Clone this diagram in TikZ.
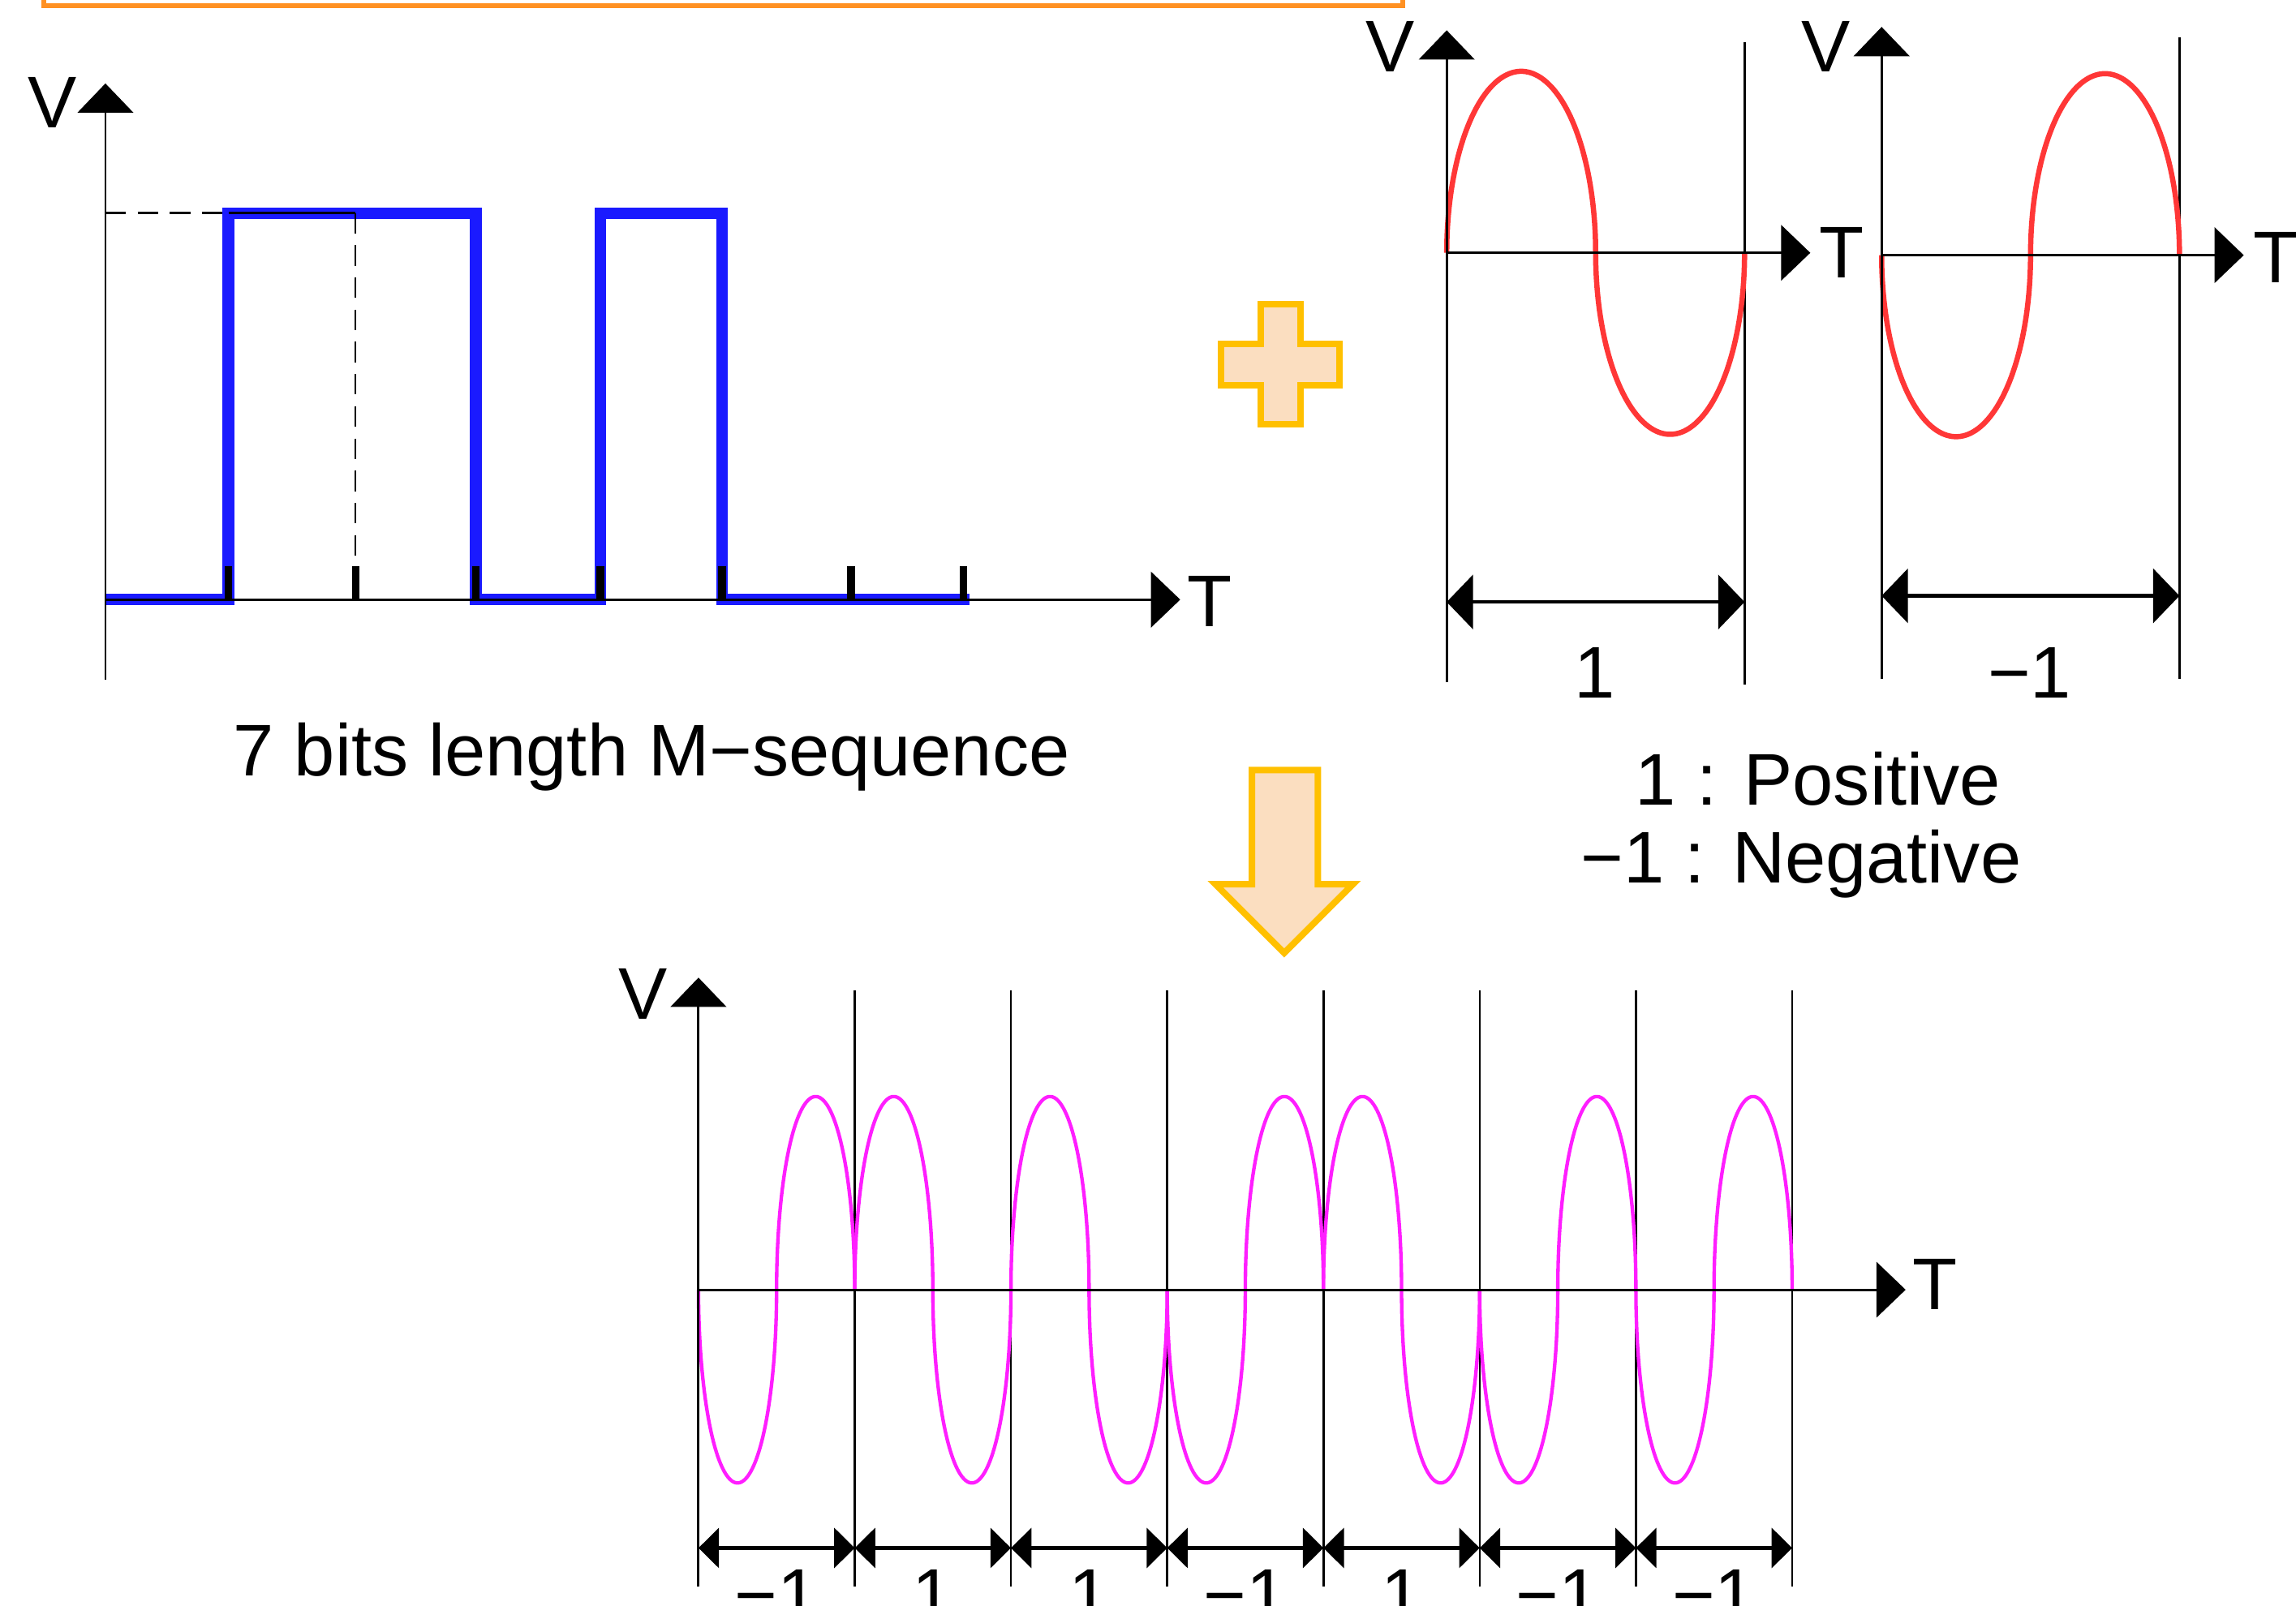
\documentclass[tikz,border=0pt]{standalone}
\usepackage{fontspec}
\setmainfont{Liberation Sans}
\usetikzlibrary{arrows.meta}
\definecolor{boxorange}{RGB}{255,145,35}
\definecolor{gold}{RGB}{255,192,0}
\definecolor{peach}{RGB}{251,222,192}
\definecolor{sigblue}{RGB}{26,26,255}
\definecolor{sinered}{RGB}{255,55,55}
\definecolor{sinemag}{RGB}{255,30,255}
\begin{document}
\begin{tikzpicture}[x=0.5pt,y=-0.5pt,
  lbl/.style={font=\fontsize{25}{30}\selectfont, inner sep=0pt, anchor=base},
  axisline/.style={line width=0.8pt, -{Triangle[length=10pt,width=19pt]}},
  vline/.style={line width=0.7pt},
  dblarrow/.style={line width=1.2pt, {Triangle[length=9pt,width=18.5pt]}-{Triangle[length=9pt,width=18.5pt]}},
  smalldbl/.style={line width=1.4pt, {Triangle[length=7pt,width=13.5pt]}-{Triangle[length=7pt,width=13.5pt]}},
  tickmark/.style={line width=2.7pt},
  dashline/.style={line width=0.7pt, dash pattern=on 7pt off 4pt},
  blueline/.style={sigblue, line width=4pt, line join=miter},
  redsine/.style={sinered, line width=1.8pt},
  magsine/.style={sinemag, line width=1.2pt},
  blockshape/.style={draw=gold, fill=peach, line width=2.2pt, line join=miter}
]
\useasboundingbox (0,0) rectangle (1568,1097);
\clip (0,0) rectangle (1568,1097);

% title box (cut at top)
\draw[boxorange, line width=1.6pt] (30,-30) rectangle (958,3.7);

% ---------- left plot: M-sequence ----------
\coordinate (lvb) at (72,464.5);
\coordinate (lvt) at (72,57);
\coordinate (lho) at (72,409.6);
\coordinate (lht) at (806,409.6);
\draw[blueline] (72,409.6) -- (156,409.6) -- (156,145.8) -- (325,145.8) -- (325,409.6)
  -- (410,409.6) -- (410,145.8) -- (493,145.8) -- (493,409.6) -- (662,409.6);
\draw[axisline] (lvb) -- (lvt);
\draw[axisline] (lho) -- (lht);
\foreach \tx in {156,243,325,410,493,581,658}
  \draw[tickmark] (\tx,387) -- (\tx,409.6);
\draw[dashline] (72,145.5) -- (156,145.5);
\draw[vline] (156,145.5) -- (242.6,145.5);
\draw[dashline] (242.6,145.5) -- (242.6,387);
\node[lbl] (lV) at (36,87.5) {V};
\node[lbl] (lT) at (826,428) {T};
\node[lbl] (mseq) at (445,530) {7 bits length M−sequence};

% plus sign
\draw[blockshape] (861,208) -- (888,208) -- (888,235) -- (915,235) -- (915,263) -- (888,263)
  -- (888,290) -- (861,290) -- (861,263) -- (834,263) -- (834,235) -- (861,235) -- cycle;

% down arrow
\draw[blockshape] (855,526) -- (900,526) -- (900,604) -- (924,604) -- (877,651)
  -- (830,604) -- (855,604) -- cycle;

% ---------- middle plot: "1" ----------
\coordinate (mvb) at (988,466);
\coordinate (mvt) at (988,20.7);
\coordinate (mho) at (988,172.7);
\coordinate (mht) at (1236.3,172.7);
\coordinate (mrb) at (1191.4,467.5);
\coordinate (mrt) at (1191.4,28.6);
\coordinate (mal) at (988,411.2);
\coordinate (mar) at (1191.4,411.2);
\draw[vline] (mrb) -- (mrt);
\draw[redsine] plot[domain=180:0,samples=90,variable=\t] ({988+50.85+50.85*cos(\t)},{172.7-124*sin(\t)})
  -- plot[domain=180:360,samples=90,variable=\t] ({988+152.55+50.85*cos(\t)},{172.7-124*sin(\t)});
\draw[axisline] (mvb) -- (mvt);
\draw[axisline] (mho) -- (mht);
\draw[dblarrow] (mal) -- (mar);
\node[lbl] (mV) at (949.5,49) {V};
\node[lbl] (mT) at (1258,190) {T};
\node[lbl] (mone) at (1089,477) {1};

% ---------- right plot: "-1" ----------
\coordinate (rvb) at (1285,464);
\coordinate (rvt) at (1285,18.4);
\coordinate (rho) at (1285,174.3);
\coordinate (rht) at (1532.3,174.3);
\coordinate (rrb) at (1488.4,464);
\coordinate (rrt) at (1488.4,25.4);
\coordinate (ral) at (1285,407);
\coordinate (rar) at (1488.4,407);
\draw[vline] (rrb) -- (rrt);
\draw[redsine] plot[domain=180:0,samples=90,variable=\t] ({1285+50.85+50.85*cos(\t)},{174.3+124*sin(\t)})
  -- plot[domain=180:360,samples=90,variable=\t] ({1285+152.55+50.85*cos(\t)},{174.3+124*sin(\t)});
\draw[axisline] (rvb) -- (rvt);
\draw[axisline] (rho) -- (rht);
\draw[dblarrow] (ral) -- (rar);
\node[lbl] (rV) at (1247,49.3) {V};
\node[lbl] (rT) at (1554,193) {T};
\node[lbl] (rone) at (1386,477) {−1};

% legend
\node[lbl] (pos) at (1241.5,550) {1 : Positive};
\node[lbl] (neg) at (1230,603) {−1 : Negative};

% ---------- bottom plot: modulated ----------
\coordinate (bvb) at (477,1083.6);
\coordinate (bvt) at (477,667.8);
\coordinate (bho) at (477,881);
\coordinate (bht) at (1301.4,881);
\foreach \i in {1,...,7}
  \draw[vline] ({477+106.7*\i},676.6) -- ({477+106.7*\i},1083.6);
\foreach \b [count=\i from 0] in {-1,1,1,-1,1,-1,-1}
  \draw[magsine] plot[domain=180:0,samples=70,variable=\t] ({477+106.7*\i+26.675+26.675*cos(\t)},{881-(\b)*132*sin(\t)})
    -- plot[domain=180:360,samples=70,variable=\t] ({477+106.7*\i+80.025+26.675*cos(\t)},{881-(\b)*132*sin(\t)});
\draw[axisline] (bvb) -- (bvt);
\draw[axisline] (bho) -- (bht);
\foreach \i in {0,...,6}
  \draw[smalldbl] ({477+106.7*\i},1057.4) -- ({477+106.7*(\i+1)},1057.4);
\foreach \t [count=\i from 0] in {−1,1,1,−1,1,−1,−1}
  \node[lbl] (bl\i) at ({477+106.7*(\i+0.5)},1107) {\t};
\node[lbl] (bV) at (439,696) {V};
\node[lbl] (bT) at (1321.5,894.7) {T};
\end{tikzpicture}
\end{document}
